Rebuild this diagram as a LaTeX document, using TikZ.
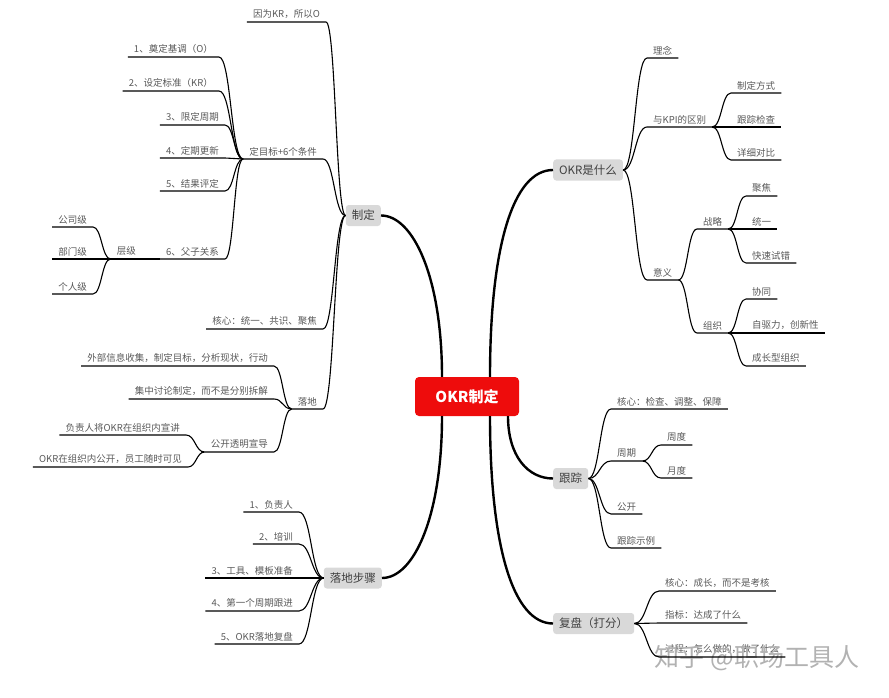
\documentclass[tikz,border=0pt]{standalone}
\usepackage{fontspec}
\setmainfont{Noto Sans CJK SC}
\usetikzlibrary{positioning, calc}
\definecolor{okrred}{RGB}{238,12,12}
\definecolor{topicgray}{RGB}{217,217,217}

\begin{document}
\begin{tikzpicture}[
        x=1pt, y=-1pt,
        every node/.style={font=\fontsize{9.5}{11}\selectfont},
        root/.style={rectangle, rounded corners=4pt, fill=okrred, text=white, font=\fontsize{15}{18}\selectfont\bfseries, minimum width=104pt, minimum height=39pt},
        topic/.style={rectangle, rounded corners=3pt, fill=topicgray, text=black!75, font=\fontsize{11.5}{13}\selectfont, minimum height=21pt, inner xsep=6pt, inner ysep=0pt},
        leaf/.style={text=black!65, inner xsep=6pt, inner ysep=3pt},
        trunk/.style={line width=2.4pt},
        twig/.style={line width=1.1pt, to path={.. controls ($(\tikztostart)!0.5!(\tikztostart-|\tikztotarget)$) and ($(\tikztotarget)!0.5!(\tikztotarget-|\tikztostart)$) .. (\tikztotarget)}}
    ]
    \useasboundingbox (0,0) rectangle (889,698);

    % Nodes
    \node[root] (okr) at (467,396.5) {OKR制定};
    \node[topic, anchor=east] (zhiding) at (381,215.5) {制定};
    \node[topic, anchor=east] (buzhou) at (382,578) {落地步骤};
    \node[topic, anchor=west] (okrwhat) at (553,170) {OKR是什么};
    \node[topic, anchor=west] (genzong) at (553,478.5) {跟踪};
    \node[topic, anchor=west] (fupan) at (553,623.5) {复盘（打分）};

    % 制定
    \node[leaf, anchor=south east] (yinwei) at (326,22) {因为KR，所以O};
    \node[leaf, anchor=south east] (mubiao) at (323,159) {定目标+6个条件};
    \node[leaf, anchor=south east] (hexin) at (323,329) {核心：统一、共识、聚焦};
    \node[leaf, anchor=south east] (luodi) at (323,409) {落地};

    \node[leaf, anchor=south east] (tiao1) at (219,57) {1、奠定基调（O）};
    \node[leaf, anchor=south east] (tiao2) at (219,91) {2、设定标准（KR）};
    \node[leaf, anchor=south east] (tiao3) at (225,125) {3、限定周期};
    \node[leaf, anchor=south east] (tiao4) at (225,158) {4、定期更新};
    \node[leaf, anchor=south east] (tiao5) at (225,191) {5、结果评定};
    \node[leaf, anchor=south east] (tiao6) at (225,259) {6、父子关系};
    \node[leaf, anchor=south east] (cengji) at (142,259) {层级};
    \node[leaf, anchor=south east] (gongsi) at (93,227) {公司级};
    \node[leaf, anchor=south east] (bumen) at (93,259) {部门级};
    \node[leaf, anchor=south east] (geren) at (93,294) {个人级};

    \node[leaf, anchor=south east] (waibu) at (274,366) {外部信息收集，制定目标，分析现状，行动};
    \node[leaf, anchor=south east] (jizhong) at (274,399) {集中讨论制定，而不是分别拆解};
    \node[leaf, anchor=south east] (gongkai) at (274,452) {公开透明宣导};
    \node[leaf, anchor=south east] (xuanjiang) at (186,435) {负责人将OKR在组织内宣讲};
    \node[leaf, anchor=south east] (kejian) at (188,467) {OKR在组织内公开，员工随时可见};

    % 落地步骤
    \node[leaf, anchor=south east] (bu1) at (299,512) {1、负责人};
    \node[leaf, anchor=south east] (bu2) at (299,544) {2、培训};
    \node[leaf, anchor=south east] (bu3) at (299,578) {3、工具、模板准备};
    \node[leaf, anchor=south east] (bu4) at (299,611) {4、第一个周期跟进};
    \node[leaf, anchor=south east] (bu5) at (299,644) {5、OKR落地复盘};

    % OKR是什么
    \node[leaf, anchor=south west] (linian) at (647,58) {理念};
    \node[leaf, anchor=south west] (kpi) at (647,127) {与KPI的区别};
    \node[leaf, anchor=south west] (yiyi) at (647,280) {意义};
    \node[leaf, anchor=south west] (fangshi) at (731,93) {制定方式};
    \node[leaf, anchor=south west] (jiancha) at (731,127) {跟踪检查};
    \node[leaf, anchor=south west] (duibi) at (731,160) {详细对比};
    \node[leaf, anchor=south west] (zhanlue) at (697,229) {战略};
    \node[leaf, anchor=south west] (zuzhi) at (697,333) {组织};
    \node[leaf, anchor=south west] (jujiao) at (746,196) {聚焦};
    \node[leaf, anchor=south west] (tongyi) at (746,229) {统一};
    \node[leaf, anchor=south west] (shicuo) at (746,263) {快速试错};
    \node[leaf, anchor=south west] (xietong) at (746,299) {协同};
    \node[leaf, anchor=south west] (qudong) at (746,333) {自驱力，创新性};
    \node[leaf, anchor=south west] (chengzhang) at (746,366) {成长型组织};

    % 跟踪
    \node[leaf, anchor=south west] (gzhexin) at (611,409) {核心：检查、调整、保障};
    \node[leaf, anchor=south west] (zhouqi) at (611,461) {周期};
    \node[leaf, anchor=south west] (gkai) at (611,514) {公开};
    \node[leaf, anchor=south west] (shili) at (611,548) {跟踪示例};
    \node[leaf, anchor=south west] (zhoudu) at (661,445) {周度};
    \node[leaf, anchor=south west] (yuedu) at (661,478) {月度};

    % 复盘
    \node[leaf, anchor=south west] (fphexin) at (659,591) {核心：成长，而不是考核};
    \node[leaf, anchor=south west] (zhibiao) at (659,623) {指标：达成了什么};
    \node[leaf, anchor=south west] (guocheng) at (659,657) {过程：怎么做的，做了什么};

    \node[text=black!30, font=\fontsize{25}{28}\selectfont] (mark) at (757,658) {知乎 @职场工具人};

    % Connectors
    \draw[trunk] ([xshift=-25pt]okr.north) .. controls +(0,-100) and +(32,0) .. (zhiding.east);
    \draw[trunk] ([xshift=23pt]okr.north) .. controls +(0,-130) and +(-40,0) .. (okrwhat.west);
    \draw[trunk] ([xshift=-25pt]okr.south) .. controls +(0,100) and +(32,0) .. (buzhou.east);
    \draw[trunk] ([xshift=41pt]okr.south) .. controls +(0,40) and +(-25,0) .. (genzong.west);
    \draw[trunk] ([xshift=23pt]okr.south) .. controls +(0,130) and +(-40,0) .. (fupan.west);

    \draw[twig] (zhiding.west) to (yinwei.south east) -- (yinwei.south west);
    \draw[twig] (zhiding.west) to (mubiao.south east) -- (mubiao.south west);
    \draw[twig] (zhiding.west) to (hexin.south east) -- (hexin.south west);
    \draw[twig] (zhiding.west) to (luodi.south east) -- (luodi.south west);

    \foreach \t in {tiao1,tiao2,tiao3,tiao4,tiao5,tiao6}
        \draw[twig] (mubiao.south west) to (\t.south east) -- (\t.south west);
    \draw[twig] (tiao6.south west) to (cengji.south east) -- (cengji.south west);
    \foreach \t in {gongsi,bumen,geren}
        \draw[twig] (cengji.south west) to (\t.south east) -- (\t.south west);

    \foreach \t in {waibu,jizhong,gongkai}
        \draw[twig] (luodi.south west) to (\t.south east) -- (\t.south west);
    \foreach \t in {xuanjiang,kejian}
        \draw[twig] (gongkai.south west) to (\t.south east) -- (\t.south west);

    \foreach \t in {bu1,bu2,bu3,bu4,bu5}
        \draw[twig] (buzhou.west) to (\t.south east) -- (\t.south west);

    \foreach \t in {linian,kpi,yiyi}
        \draw[twig] (okrwhat.east) to (\t.south west) -- (\t.south east);
    \foreach \t in {fangshi,jiancha,duibi}
        \draw[twig] (kpi.south east) to (\t.south west) -- (\t.south east);
    \foreach \t in {zhanlue,zuzhi}
        \draw[twig] (yiyi.south east) to (\t.south west) -- (\t.south east);
    \foreach \t in {jujiao,tongyi,shicuo}
        \draw[twig] (zhanlue.south east) to (\t.south west) -- (\t.south east);
    \foreach \t in {xietong,qudong,chengzhang}
        \draw[twig] (zuzhi.south east) to (\t.south west) -- (\t.south east);

    \foreach \t in {gzhexin,zhouqi,gkai,shili}
        \draw[twig] (genzong.east) to (\t.south west) -- (\t.south east);
    \foreach \t in {zhoudu,yuedu}
        \draw[twig] (zhouqi.south east) to (\t.south west) -- (\t.south east);

    \foreach \t in {fphexin,zhibiao,guocheng}
        \draw[twig] (fupan.east) to (\t.south west) -- (\t.south east);

\end{tikzpicture}
\end{document}
